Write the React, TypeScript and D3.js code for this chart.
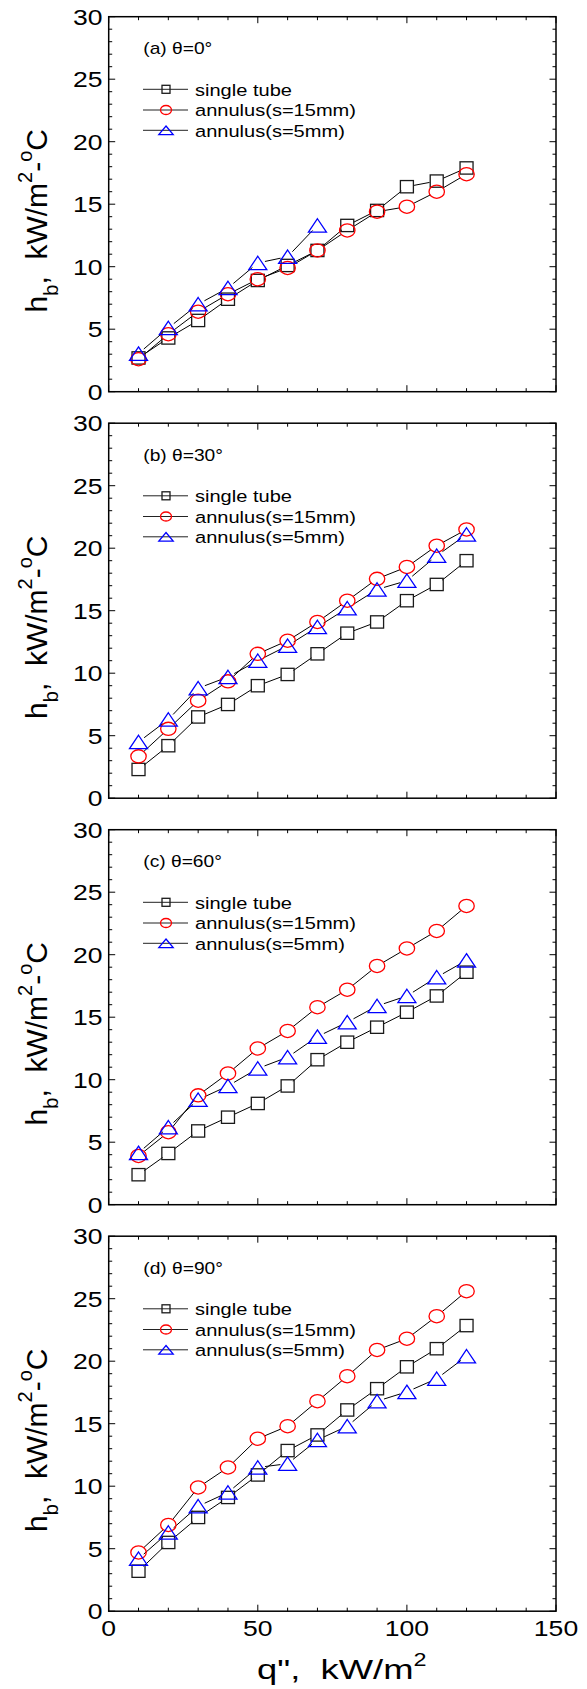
import React from 'react';
import * as d3 from 'd3';

// ---------- data ----------
const qFlux = [10, 20, 30, 40, 50, 60, 70, 80, 90, 100, 110, 120];
const panelTitles = ['(a) θ=0°', '(b) θ=30°', '(c) θ=60°', '(d) θ=90°'];
const seriesNames = ['single tube', 'annulus(s=15mm)', 'annulus(s=5mm)'];

const singleA = [2.7, 4.3, 5.7, 7.4, 8.9, 10.1, 11.3, 13.3, 14.5, 16.4, 16.85, 17.9];
const ann15A = [2.6, 4.6, 6.4, 7.8, 9.0, 9.9, 11.3, 12.9, 14.4, 14.8, 16.0, 17.4];
const ann5A = [3.05, 5.1, 7.0, 8.3, 10.3, 10.8, 13.3];

const singleB = [2.3, 4.2, 6.5, 7.5, 9.0, 9.9, 11.55, 13.2, 14.1, 15.8, 17.1, 19.0];
const ann15B = [3.35, 5.55, 7.8, 9.35, 11.55, 12.6, 14.1, 15.8, 17.55, 18.5, 20.2, 21.5];
const ann5B = [4.5, 6.3, 8.8, 9.7, 11.0, 12.2, 13.7, 15.2, 16.7, 17.4, 19.4, 21.1];

const singleC = [2.4, 4.1, 5.9, 7.0, 8.1, 9.5, 11.6, 13.0, 14.2, 15.4, 16.7, 18.6];
const ann15C = [3.9, 5.8, 8.75, 10.5, 12.5, 13.9, 15.8, 17.2, 19.1, 20.5, 21.9, 23.9];
const ann5C = [4.15, 6.2, 8.4, 9.5, 10.9, 11.8, 13.45, 14.6, 15.9, 16.7, 18.2, 19.55];

const singleD = [3.2, 5.5, 7.5, 9.1, 10.9, 12.85, 14.1, 16.1, 17.8, 19.55, 21.0, 22.85];
const ann15D = [4.7, 6.9, 9.9, 11.5, 13.8, 14.8, 16.8, 18.8, 20.9, 21.8, 23.6, 25.6];
const ann5D = [4.2, 6.3, 8.4, 9.5, 11.5, 11.8, 13.7, 14.8, 16.8, 17.55, 18.6, 20.4];

const yTicks = [0, 5, 10, 15, 20, 25, 30];
const xTicks = [0, 50, 100, 150];

const panels = [
  { title: panelTitles[0], series: [singleA, ann15A, ann5A] },
  { title: panelTitles[1], series: [singleB, ann15B, ann5B] },
  { title: panelTitles[2], series: [singleC, ann15C, ann5C] },
  { title: panelTitles[3], series: [singleD, ann15D, ann5D] },
];

// ---------- layout ----------
const W = 587;
const H = 1689;
const L = 108.7;
const R = 556;
const TOP0 = 16.7;
const STEP = 406.5;
const PH = 375;
const FONT = '"Liberation Sans", Arial, Helvetica, sans-serif';
const SX = 1.18;
const COLORS = ['#1a1a1a', '#ff0000', '#0000ff'];

const x = d3.scaleLinear().domain([0, 150]).range([L, R]);

function HText(props: any) {
  const { x: tx, y: ty, size, anchor = 'start', sx = SX, children } = props;
  return (
    <text
      transform={`translate(${tx},${ty}) scale(${sx},1)`}
      fontSize={size}
      textAnchor={anchor}
      fontFamily={FONT}
      fill="#000"
      style={{ whiteSpace: 'pre' }}
    >
      {children}
    </text>
  );
}

function Marker(props: any) {
  const { kind, cx, cy, small } = props;
  const color = COLORS[kind];
  const sw = 1.3;
  if (kind === 0) {
    const w = small ? 8 : 13;
    const h = small ? 8 : 12.3;
    return <rect x={cx - w / 2} y={cy - h / 2} width={w} height={h} fill="none" stroke={color} strokeWidth={sw} />;
  }
  if (kind === 1) {
    const rx = small ? 5.5 : 7.7;
    const ry = small ? 4.5 : 6.6;
    return <ellipse cx={cx} cy={cy} rx={rx} ry={ry} fill="none" stroke={color} strokeWidth={sw} />;
  }
  const hw = small ? 7.2 : 9;
  const hh = small ? 4.3 : 6.7;
  const p = d3.path();
  p.moveTo(cx, cy - hh);
  p.lineTo(cx + hw, cy + hh);
  p.lineTo(cx - hw, cy + hh);
  p.closePath();
  return <path d={p.toString()} fill="none" stroke={color} strokeWidth={sw} strokeLinejoin="miter" />;
}

function Panel(props: any) {
  const { idx, title, series, showX } = props;
  const top = TOP0 + STEP * idx;
  const bottom = top + PH;
  const y = d3.scaleLinear().domain([0, 30]).range([bottom, top]);

  const yMinor = d3.range(0, 31, 1).filter((v) => v % 5 !== 0);
  const xMinor = d3.range(0, 151, 10).filter((v) => v % 50 !== 0);

  const segs: any[] = [];
  const rx = 7.3;
  const ry = 6.6;
  series.forEach((vals: number[], si: number) => {
    for (let i = 0; i < vals.length - 1; i++) {
      const x1 = x(qFlux[i]);
      const y1 = y(vals[i]);
      const x2 = x(qFlux[i + 1]);
      const y2 = y(vals[i + 1]);
      const dx = x2 - x1;
      const dy = y2 - y1;
      const len = Math.hypot(dx, dy);
      if (len === 0) continue;
      const ux = dx / len;
      const uy = dy / len;
      const t = 1 / Math.sqrt((ux / rx) ** 2 + (uy / ry) ** 2);
      if (len <= 2 * t) continue;
      segs.push(
        <line
          key={`s${si}-${i}`}
          x1={x1 + ux * t}
          y1={y1 + uy * t}
          x2={x2 - ux * t}
          y2={y2 - uy * t}
          stroke="#000"
          strokeWidth={1}
        />
      );
    }
  });

  const legendRows = [72.6, 93.3, 113.6];

  return (
    <g>
      {/* ticks */}
      {yTicks.map((v) => (
        <g key={`yt${v}`}>
          <line x1={L} x2={L + 6.5} y1={y(v)} y2={y(v)} stroke="#000" strokeWidth={1} />
          <line x1={R} x2={R - 6.5} y1={y(v)} y2={y(v)} stroke="#000" strokeWidth={1} />
        </g>
      ))}
      {yMinor.map((v) => (
        <g key={`ym${v}`}>
          <line x1={L} x2={L + 3.5} y1={y(v)} y2={y(v)} stroke="#000" strokeWidth={1} />
          <line x1={R} x2={R - 3.5} y1={y(v)} y2={y(v)} stroke="#000" strokeWidth={1} />
        </g>
      ))}
      {xTicks.map((v) => (
        <g key={`xt${v}`}>
          <line x1={x(v)} x2={x(v)} y1={bottom} y2={bottom - 6.5} stroke="#000" strokeWidth={1} />
          <line x1={x(v)} x2={x(v)} y1={top} y2={top + 6.5} stroke="#000" strokeWidth={1} />
        </g>
      ))}
      {xMinor.map((v) => (
        <g key={`xm${v}`}>
          <line x1={x(v)} x2={x(v)} y1={bottom} y2={bottom - 3.5} stroke="#000" strokeWidth={1} />
          <line x1={x(v)} x2={x(v)} y1={top} y2={top + 3.5} stroke="#000" strokeWidth={1} />
        </g>
      ))}
      <rect x={L} y={top} width={R - L} height={PH} fill="none" stroke="#000" strokeWidth={1.5} />

      {/* y tick labels */}
      {yTicks.map((v) => (
        <HText key={`yl${v}`} x={102.5} y={y(v) + 0.36 * 22.5} size={22.5} anchor="end">
          {String(v)}
        </HText>
      ))}
      {showX &&
        xTicks.map((v) => (
          <HText key={`xl${v}`} x={x(v)} y={1635.5} size={22.5} anchor="middle">
            {String(v)}
          </HText>
        ))}

      {/* y axis title */}
      <text
        transform={`translate(47,${top + 204}) rotate(-90)`}
        fontSize={30}
        textAnchor="middle"
        fontFamily={FONT}
        fill="#000"
        style={{ whiteSpace: 'pre' }}
      >
        h
        <tspan dy={11} fontSize={20}>b</tspan>
        <tspan dy={-11}>{',  kW/m'}</tspan>
        <tspan dy={-15} fontSize={20}>2</tspan>
        <tspan dy={15}>-</tspan>
        <tspan dy={-15} fontSize={20}>o</tspan>
        <tspan dy={15}>C</tspan>
      </text>

      {/* title */}
      <HText x={143.3} y={top + 37.6} size={16} sx={1.2}>
        {title}
      </HText>

      {/* legend */}
      {seriesNames.map((name, i) => {
        const ly = top + legendRows[i];
        return (
          <g key={`lg${i}`}>
            <line x1={143} x2={188} y1={ly} y2={ly} stroke="#222" strokeWidth={1} />
            <Marker kind={i} cx={166} cy={ly} small />
            <HText x={195} y={ly + 6.3} size={17}>
              {name}
            </HText>
          </g>
        );
      })}

      {/* lines */}
      {segs}

      {/* markers */}
      {series.map((vals: number[], si: number) =>
        vals.map((v, i) => <Marker key={`m${si}-${i}`} kind={si} cx={x(qFlux[i])} cy={y(v)} />)
      )}
    </g>
  );
}

export default function App() {
  return (
    <div style={{ position: 'absolute', left: 0, top: 0 }}>
      <svg width={W} height={H} viewBox={`0 0 ${W} ${H}`} style={{ display: 'block', background: '#fff' }}>
        <rect x={0} y={0} width={W} height={H} fill="#fff" />
        {panels.map((p, i) => (
          <Panel key={i} idx={i} title={p.title} series={p.series} showX={i === panels.length - 1} />
        ))}
        <text
          transform={`translate(257,1679) scale(1.3,1)`}
          fontSize={28}
          fontFamily={FONT}
          fill="#000"
          style={{ whiteSpace: 'pre' }}
        >
          {'q",  kW/m'}
          <tspan dy={-13} fontSize={18}>2</tspan>
        </text>
      </svg>
    </div>
  );
}
